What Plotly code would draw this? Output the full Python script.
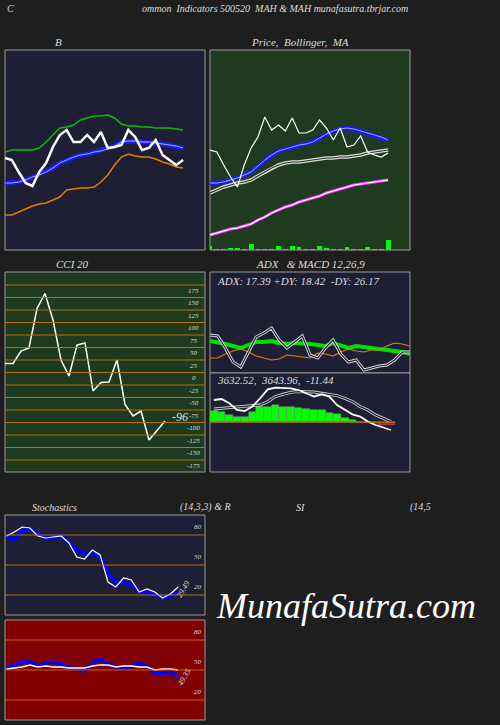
import plotly.graph_objects as go

W, H = 500, 725
BG = '#1e1e1e'
NAVY = '#1e1e34'
GREEN_BG = '#1f3b1f'
RED_BG = '#800000'
FONT = 'Liberation Serif'

# ---- Bollinger panel (values = height in px above panel bottom) ----
boll_price = [92, 90, 78, 67, 64, 78, 87, 103, 115, 120, 108, 108, 115, 108, 118, 102, 103, 105, 120, 113, 100, 102, 110, 95, 90, 85, 90]
boll_upper = [98, 100, 100, 100, 100, 102, 108, 115, 122, 123, 125, 130, 132, 134, 134, 135, 132, 126, 124, 124, 123, 123, 122, 122, 122, 121, 120]
boll_mid = [67, 67, 68, 70, 73, 75, 78, 82, 87, 90, 93, 95, 96, 98, 99, 101, 104, 108, 109, 109, 108, 108, 107, 106, 105, 104, 102]
boll_lower = [35, 35, 38, 41, 44, 46, 47, 50, 53, 60, 61, 62, 62, 63, 68, 75, 85, 93, 96, 94, 93, 93, 91, 88, 86, 83, 82]

# ---- Price / MA panel ----
ma_price = [100, 98, 85, 73, 63, 85, 102, 113, 133, 120, 125, 119, 132, 117, 117, 120, 130, 122, 110, 122, 103, 105, 114, 98, 95, 93, 97]
ma_fast = [67, 67, 68, 70, 72, 75, 78, 84, 90, 95, 99, 101, 103, 105, 106, 108, 112, 116, 119, 121, 122, 121, 119, 117, 115, 113, 110]
ma_mid = [57, 60, 63, 65, 67, 68, 70, 74, 78, 82, 85, 87, 88, 88, 89, 90, 91, 92, 92, 93, 93, 94, 95, 97, 98, 99, 100]
ma_slow = [15, 17, 19, 21, 22, 24, 26, 30, 33, 37, 40, 43, 45, 48, 50, 52, 54, 57, 59, 61, 63, 65, 66, 67, 68, 69, 70]
volume = [4, 1, 1, 2, 2, 1, 6, 1, 1, 1, 4, 1, 4, 3, 1, 1, 4, 2, 1, 1, 3, 1, 1, 3, 1, 1, 10]

# ---- CCI ----
cci = [18, 18, 43, 49, 128, 158, 105, 25, -7, 55, 59, -37, -20, -19, 25, -64, -87, -77, -135, -115, -97]
cci_levels = [175, 150, 125, 100, 75, 50, 25, 0, -25, -50, -75, -100, -125, -150, -175]

# ---- ADX ----
adx = [32, 31, 29, 27, 25, 28, 31, 31, 32, 30, 29, 30, 30, 29, 28, 27, 30, 27, 25, 27, 26, 25, 25, 23, 22, 21, 19]
plus_di = [15, 15, 19, 22, 24, 21, 17, 15, 13, 14, 18, 17, 16, 15, 20, 19, 17, 21, 24, 22, 21, 23, 23, 27, 30, 29, 27]
minus_di = [38, 37, 25, 11, 6, 21, 36, 40, 45, 33, 25, 31, 37, 18, 15, 25, 33, 19, 11, 13, 3, 5, 7, 8, 13, 21, 21]

# ---- MACD ----
macd_hist = [11.3, 10, 7.3, 5, 5.7, 10.7, 15, 15.7, 17.3, 15.7, 15.7, 14, 13, 12.7, 12.3, 9, 8, 4, 2.3, 0.7, 0, -1, -2.7, -2.7]
macd_line = [22.3, 23.3, 19, 12.3, 11.3, 15.7, 24, 33, 34.7, 34.7, 34, 32.3, 29, 25.7, 28, 25.7, 17.3, 12.3, 8, 5.7, 0.7, -2.7, -5.3, -7.7]
macd_signal = [13.3, 14, 14.7, 15.3, 15.7, 16.3, 17.3, 20.7, 25.7, 28, 30, 30.7, 30.7, 30.3, 29, 28, 26.7, 24, 20.7, 15.7, 12.3, 7.3, 4, 0.7]

# ---- Stochastics / RSI ----
stoch_d = [79, 75, 84, 86, 82, 78, 78, 79, 73, 65, 61, 62, 58, 42, 32, 33, 30, 24, 23, 21, 18, 19, 23]
stoch_k = [79, 83, 88, 87, 79, 77, 78, 79, 72, 58, 56, 65, 60, 33, 28, 37, 35, 23, 26, 23, 17, 21, 28]
rsi_fast = [52, 55, 58, 59, 54, 57, 58, 56, 52, 51, 49, 57, 61, 56, 53, 53, 53, 57, 54, 47, 46, 48, 43]
rsi_slow = [51, 52, 53, 55, 53, 54, 53, 53, 52, 52, 52, 54, 55, 55, 53, 54, 54, 53, 53, 50, 51, 51, 50]


def xd(a, b):
    return [a / W, b / W]


def yd(top, bottom):
    return [1 - bottom / H, 1 - top / H]


fig = go.Figure()
layout = dict(width=W, height=H, margin=dict(l=0, r=0, t=0, b=0),
              paper_bgcolor=BG, plot_bgcolor=BG, showlegend=False,
              font=dict(family=FONT, color='#dddddd', style='italic'))
shapes, annotations = [], []

panels = {}


def panel(n, box, xr, yr, bg):
    x0, y0, x1, y1 = box
    layout[f'xaxis{n}'] = dict(domain=xd(x0, x1), range=xr, visible=False, anchor=f'y{n}', fixedrange=True)
    layout[f'yaxis{n}'] = dict(domain=yd(y0, y1), range=yr, visible=False, anchor=f'x{n}', fixedrange=True)
    shapes.append(dict(type='rect', xref='paper', yref='paper', x0=x0 / W, x1=x1 / W,
                       y0=1 - y1 / H, y1=1 - y0 / H, fillcolor=bg,
                       line=dict(color='#9a9a9a', width=1), layer='below'))
    panels[n] = (f'x{n}', f'y{n}')


def line(n, y, color, width, x=None):
    xa, ya = panels[n]
    fig.add_trace(go.Scatter(x=x if x is not None else list(range(len(y))), y=y, mode='lines',
                             line=dict(color=color, width=width), xaxis=xa, yaxis=ya,
                             hoverinfo='skip'))


def double(n, y, outer, inner, w=3.5):
    line(n, y, outer, w)
    line(n, y, inner, 1.2)


def hlines(n, levels, color, xr):
    xa, ya = panels[n]
    for v in levels:
        shapes.append(dict(type='line', xref=xa, yref=ya, x0=xr[0], x1=xr[1], y0=v, y1=v,
                           line=dict(color=color, width=1.2)))


def text(x, y, s, size=11, color='#dddddd', xanchor='center', **kw):
    annotations.append(dict(xref='paper', yref='paper', x=x / W, y=1 - y / H, text=s,
                            xanchor=xanchor, yanchor='middle',
                            showarrow=False, font=dict(size=size, color=color), **kw))


# Bollinger
xr27 = [0, 200 / 6.85]
panel('', (5, 50, 205, 250), xr27, [0, 200], NAVY)
line('', boll_upper, '#00c000', 1.5)
line('', boll_lower, '#e08000', 1.5)
line('', boll_mid, '#1a1aff', 4.5)
line('', boll_mid, '#a0a8ff', 1)
line('', boll_price, '#ffffff', 2.5)

# Price / MA
panel(2, (210, 50, 410, 250), xr27, [0, 200], GREEN_BG)
fig.add_trace(go.Bar(x=list(range(len(volume))), y=volume, marker=dict(color='#00ff00', line_width=0),
                     width=0.7, xaxis='x2', yaxis='y2', hoverinfo='skip'))
double(2, ma_slow, '#ff40ff', '#ffffff', 3)
double(2, ma_mid, '#dddddd', '#1f3b1f', 3.5)
line(2, ma_fast, '#1a1aff', 4.5)
line(2, ma_fast, '#a0a8ff', 1)
line(2, ma_price, '#ffffff', 1.2)

# CCI
panel(3, (5, 272, 205, 472), [0, 25], [-199, 201], GREEN_BG)
hlines(3, cci_levels, '#b8700a', [0, 25])
line(3, cci, '#ffffff', 1.5)
for v in cci_levels:
    annotations.append(dict(xref='x3', yref='y3', x=23.6, y=v, yshift=-6, text=str(v), showarrow=False,
                            font=dict(size=7, color='#dddddd')))
text(180, 417, '-96', size=12)

# ADX
xr_adx = [0, 26]
panel(4, (210, 272, 410, 373), xr_adx, [0, 101], NAVY)
line(4, adx, '#00e000', 4)
line(4, plus_di, '#e08000', 1.2)
double(4, minus_di, '#dddddd', NAVY, 3)
text(215, 281, 'ADX: 17.39 +DY: 18.42  -DY: 26.17', size=11, xanchor='left')

# MACD
panel(5, (210, 373, 410, 472), [-0.5, 200 / 7.7 - 0.5], [-49.7, 49.3], NAVY)
shapes.append(dict(type='line', xref='x5', yref='y5', x0=-0.5, x1=23.5, y0=0, y1=0,
                   line=dict(color='#b8700a', width=1)))
fig.add_trace(go.Bar(x=list(range(len(macd_hist))), y=macd_hist,
                     marker=dict(color=['#00ff00' if v >= 0 else '#ff0000' for v in macd_hist],
                                 line=dict(color='#888888', width=0.5)),
                     width=1, xaxis='x5', yaxis='y5', hoverinfo='skip'))
double(5, macd_signal, '#cccccc', NAVY, 3)
line(5, macd_line, '#ffffff', 1.8)
text(215, 380, '3632.52,  3643.96,  -11.44', size=11, xanchor='left')

# Stochastics
xr23 = [-0.2, 200 / 7.8 - 0.2]
panel(6, (5, 515, 205, 615), xr23, [0, 100], NAVY)
hlines(6, [80, 50, 20], '#b8700a', xr23)
line(6, stoch_d, '#0000ff', 4)
line(6, stoch_k, '#ffffff', 1.2)
for v in [80, 50, 20]:
    annotations.append(dict(xref='x6', yref='y6', x=24.5, y=v, yshift=8, text=str(v), showarrow=False,
                            font=dict(size=7, color='#dddddd')))
text(183, 589, '29.49', size=8, textangle=-60)

# RSI
panel(7, (5, 620, 205, 720), xr23, [0, 100], RED_BG)
hlines(7, [80, 50, 20], '#d06000', xr23)
line(7, rsi_fast, '#0000ff', 3.5)
line(7, rsi_slow, '#ffffff', 1.5)
for v in [80, 50, 20]:
    annotations.append(dict(xref='x7', yref='y7', x=24.5, y=v, yshift=8, text=str(v), showarrow=False,
                            font=dict(size=7, color='#dddddd')))
text(184, 677, '49.35', size=8, textangle=-60)

# titles
text(10, 8, 'C', size=10)
text(275, 8, 'ommon  Indicators 500520  MAH & MAH munafasutra.tbrjar.com', size=10)
text(58, 42, 'B', size=11)
text(300, 42, 'Price,  Bollinger,  MA', size=11)
text(72, 264, 'CCI 20', size=11)
text(310, 264, 'ADX   & MACD 12,26,9', size=11)
text(54, 507, 'Stochastics', size=10)
text(205, 507, '(14,3,3) & R', size=10)
text(300, 507, 'SI', size=10)
text(420, 507, '(14,5', size=10)
text(214, 606, 'MunafaSutra.com', size=36, color='#ffffff', xanchor='left')

layout['shapes'] = shapes
layout['annotations'] = annotations
layout['bargap'] = 0
fig.update_layout(**layout)
fig.write_html('out.html', config={'displayModeBar': False},
               post_script="document.body.style.margin='0';")
